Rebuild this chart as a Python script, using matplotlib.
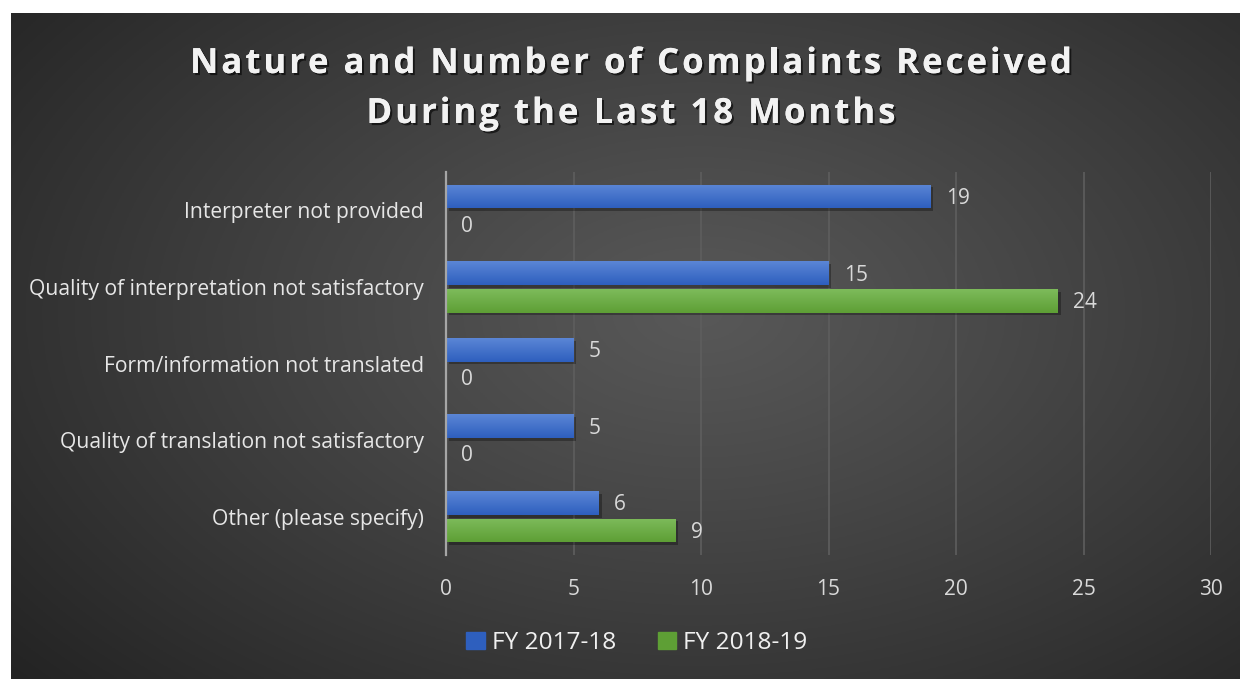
import numpy as np
import matplotlib
matplotlib.use("Agg")
import matplotlib.pyplot as plt
import matplotlib.patheffects as pe
from matplotlib.font_manager import FontProperties, findfont, get_font

# data
categories = ["Interpreter not provided",
              "Quality of interpretation not satisfactory",
              "Form/information not translated",
              "Quality of translation not satisfactory",
              "Other (please specify)"]
fy1718 = [19, 15, 5, 5, 6]
fy1819 = [0, 24, 0, 0, 9]
series_names = ["FY 2017-18", "FY 2018-19"]
xticks = [0, 5, 10, 15, 20, 25, 30]
title_lines = ["Nature and Number of Complaints Received", "During the Last 18 Months"]

W, H = 1240, 679
fig = plt.figure(figsize=(W / 100, H / 100), dpi=100, facecolor="white")

# dark radial background panel
bg = fig.add_axes([11 / W, 0, 1 - 11 / W, 1 - 13 / H])
yy, xx = np.mgrid[0:1:300j, 0:1:500j]
r = np.sqrt(((xx - 0.56) / 0.75) ** 2 + ((yy - 0.55) / 0.85) ** 2)
shade = 0.345 - 0.21 * np.clip(r, 0, 1) ** 1.1
bg.imshow(np.dstack([shade] * 3), aspect="auto", extent=[0, 1, 0, 1], origin="lower")
bg.set_axis_off()

ax = fig.add_axes([446 / W, 1 - 555 / H, (1211 - 446) / W, (555 - 172) / H])
ax.set_facecolor("none")

y = np.arange(len(categories))
h = 0.31
off = 0.18
blue = ("#5b86d6", "#2e5fbe")
green = ("#7dbb5b", "#5e9f35")
shadow = [pe.withSimplePatchShadow(offset=(2, -2), shadow_rgbFace="black", alpha=0.3)]


def gradient_bars(vals, pos, cols):
    bars = ax.barh(pos, vals, height=h, color=cols[1], zorder=3, path_effects=shadow)
    c0 = np.array(matplotlib.colors.to_rgb(cols[0]))
    c1 = np.array(matplotlib.colors.to_rgb(cols[1]))
    t = np.linspace(0, 1, 50)[:, None]
    img = (c0 * (1 - t) + c1 * t)[:, None, :]
    for b in bars:
        if b.get_width() <= 0:
            continue
        im = ax.imshow(img, extent=[b.get_x(), b.get_x() + b.get_width(),
                                    b.get_y() + b.get_height(), b.get_y()],
                       aspect="auto", zorder=4, interpolation="bilinear")
        im.set_clip_path(b)
    return bars


gradient_bars(fy1718, y - off, blue)
gradient_bars(fy1819, y + off, green)

lab_font = dict(color="#d9d9d9", fontsize=15, family="Open Sans")
for i in range(len(categories)):
    ax.annotate(str(fy1718[i]), (fy1718[i], y[i] - off), xytext=(11, -1.5),
                textcoords="offset points", va="center", ha="left", **lab_font)
    ax.annotate(str(fy1819[i]), (fy1819[i], y[i] + off), xytext=(11, -1.5),
                textcoords="offset points", va="center", ha="left", **lab_font)

ax.set_xlim(0, 30)
ax.set_ylim(len(categories) - 0.5, -0.5)
ax.set_xticks(xticks)
ax.set_yticks(y)
ax.set_yticklabels(categories)
ax.tick_params(axis="y", length=0, pad=16, labelsize=15.2, labelcolor="#e6e6e6")
ax.tick_params(axis="x", length=0, pad=17, labelsize=15, labelcolor="#d9d9d9")
for lbl in ax.get_xticklabels() + ax.get_yticklabels():
    lbl.set_family("Open Sans")
ax.grid(axis="x", color="#5e5e5e", lw=1.2, zorder=0)
ax.set_axisbelow(True)
for s in ["top", "right", "bottom"]:
    ax.spines[s].set_visible(False)
ax.spines["left"].set_color("#a6a6a6")
ax.spines["left"].set_linewidth(1.6)
ax.spines["left"].set_zorder(5)

# legend
handles = [plt.Rectangle((0, 0), 1, 1, color=blue[1]), plt.Rectangle((0, 0), 1, 1, color=green[1])]
fig.legend(handles, series_names, loc="center", bbox_to_anchor=(637 / W, 1 - 643 / H),
           ncol=2, frameon=False, handlelength=0.75, handleheight=0.75, handletextpad=0.3,
           columnspacing=1.7, prop=dict(family="Open Sans", size=17.6), labelcolor="#f0f0f0")

# title with letter spacing, drawn glyph by glyph
title_size = 25
title_prop = FontProperties(family="Open Sans", weight="bold", size=title_size)
ft = get_font(findfont(title_prop))
ft.set_size(title_size, 100)
tracking = 3.0  # px between letters
title_fx = [pe.withSimplePatchShadow(offset=(1.5, -1.5), shadow_rgbFace="black", alpha=0.6), pe.Normal()]


def spaced_text(text, cx, cy):
    adv = [ft.load_char(ord(c)).linearHoriAdvance / 65536 for c in text]
    total = sum(adv) + tracking * (len(text) - 1)
    x = cx - total / 2
    for c, a in zip(text, adv):
        if c != " ":
            fig.text((x + a / 2) / W, 1 - cy / H, c, ha="center", va="baseline",
                     fontproperties=title_prop, color="#f2f2f2", path_effects=title_fx)
        x += a + tracking


spaced_text(title_lines[0], 631, 73)
spaced_text(title_lines[1], 631, 123)

fig.savefig("out.png", dpi=100, facecolor="white")
